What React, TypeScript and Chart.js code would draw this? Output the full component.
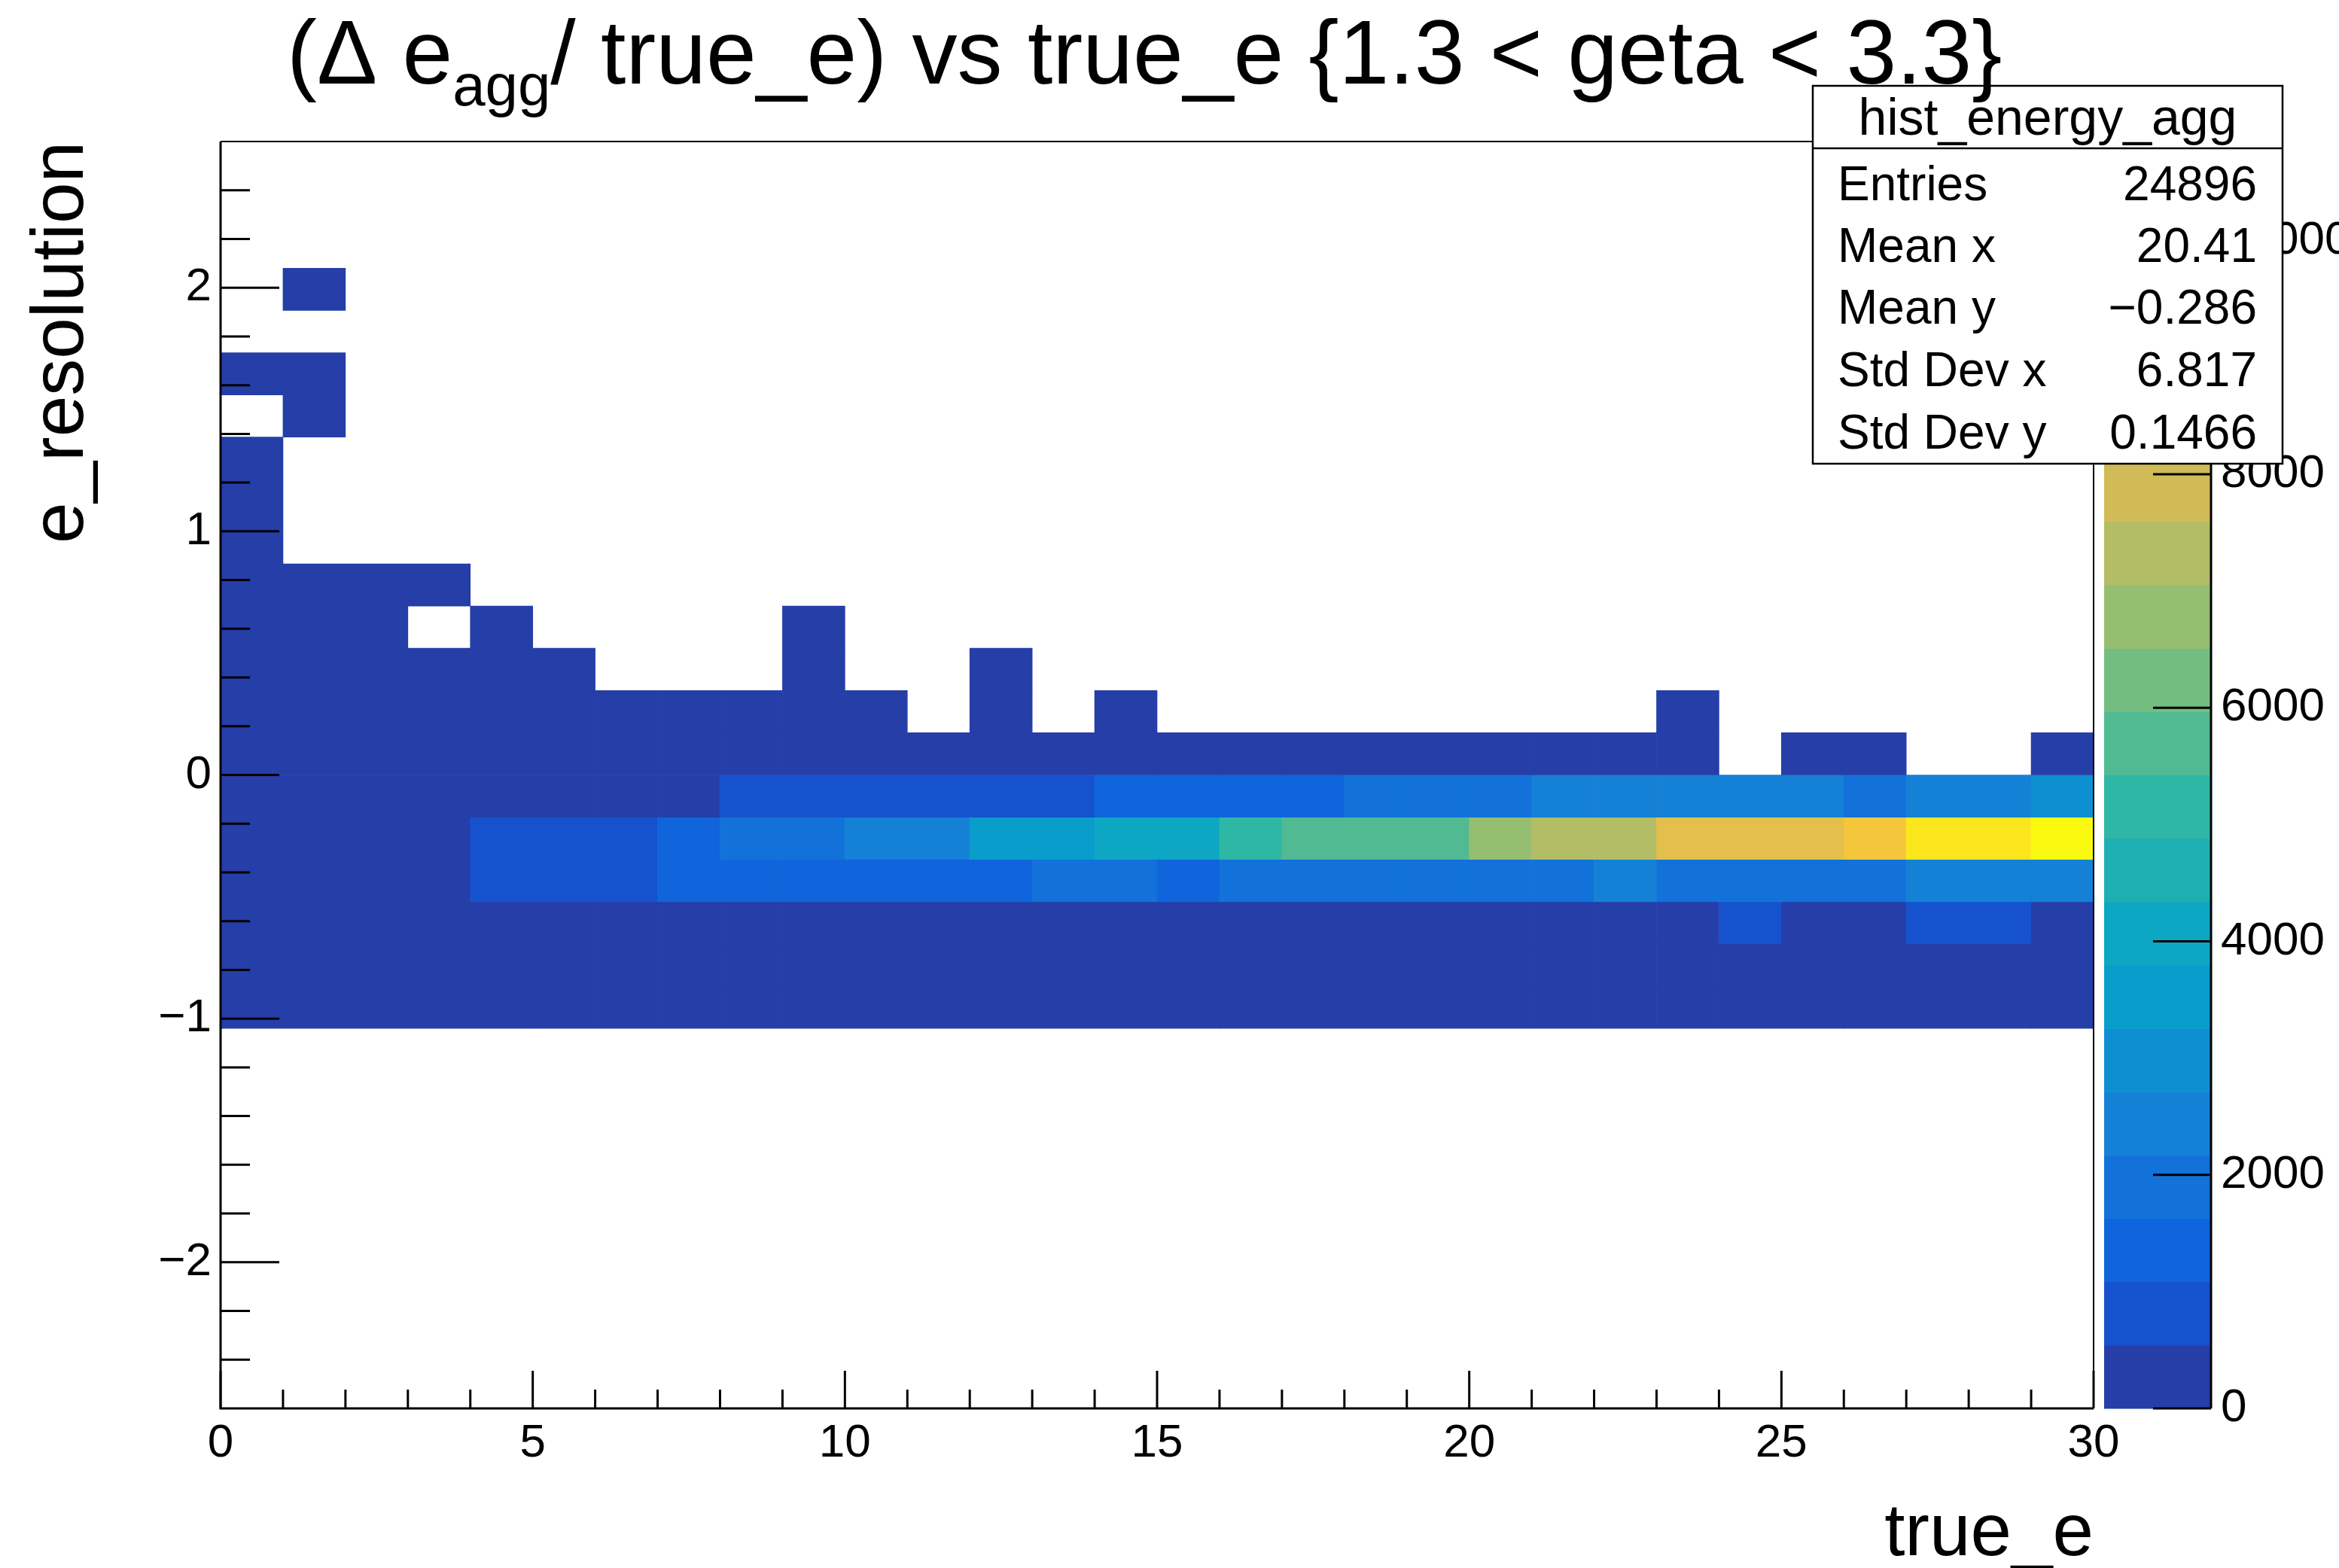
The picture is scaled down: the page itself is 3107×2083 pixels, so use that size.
import React, { useEffect, useRef } from 'react';
import { Chart, registerables } from 'chart.js';

Chart.register(...registerables);

const FONT = "'Liberation Sans', Arial, Helvetica, sans-serif";

// ---- axis definitions ----
const X_MIN = 0;
const X_MAX = 30;
const X_BINS = 30;
const Y_MIN = -2.6;
const Y_MAX = 2.6;
const Y_BINS = 30;

const xMajorTicks = [0, 5, 10, 15, 20, 25, 30];
const yMajorTicks = [-2, -1, 0, 1, 2];
const zMajorTicks = [0, 2000, 4000, 6000, 8000, 10000];

const titleMain1 = '(\u0394 e';
const titleSub = 'agg';
const titleMain2 = '/ true_e) vs true_e {1.3 < geta < 3.3}';
const xTitle = 'true_e';
const yTitle = 'e_resolution';

const statsName = 'hist_energy_agg';
const statsLabels = ['Entries', 'Mean x', 'Mean y', 'Std Dev x', 'Std Dev y'];
const statsValues = ['24896', '20.41', '\u22120.286', '6.817', '0.1466'];

// ---- bin contents, one array per y bin (bin index counted from Y_MIN), 30 x bins each ----
const row09 = [210, 165, 182, 148, 196, 171, 204, 226, 183, 241, 232, 258, 249, 272, 244, 291, 283, 305, 318, 309, 334, 352, 338, 361, 384, 366, 402, 391, 423, 408];
const row10 = [262, 231, 254, 243, 286, 302, 291, 313, 336, 352, 341, 366, 392, 371, 404, 413, 431, 422, 445, 452, 466, 441, 473, 486, 494, 472, 503, 511, 524, 506];
const row11 = [312, 284, 301, 323, 362, 381, 374, 402, 413, 431, 426, 444, 452, 463, 471, 484, 492, 503, 486, 511, 522, 508, 517, 526, 644, 531, 522, 623, 655, 536];
const row12 = [352, 331, 384, 421, 832, 874, 921, 1152, 1233, 1284, 1312, 1356, 1421, 1652, 1704, 1593, 1723, 1762, 1804, 1853, 1902, 1984, 2253, 2052, 2104, 2122, 2153, 2304, 2402, 2353];
const row13 = [384, 362, 413, 452, 903, 962, 1012, 1403, 1752, 1953, 2304, 2503, 3402, 3604, 3953, 4204, 5103, 5552, 5704, 5853, 6804, 7203, 7452, 8253, 8404, 8552, 8953, 9904, 10152, 10850];
const row14 = [302, 281, 322, 351, 392, 423, 462, 503, 622, 703, 782, 853, 932, 1012, 1124, 1203, 1302, 1453, 1702, 1853, 2004, 2253, 2354, 2452, 2553, 2604, 2103, 2404, 2652, 2903];
const row15 = [210, 185, 172, 148, 133, 109, 94, 82, 71, 58, 52, 43, 37, 29, 26, 21, 19, 17, 14, 13, 9, 8, 7, 5, 0, 4, 3, 0, 0, 2];
const row16 = [120, 96, 81, 64, 52, 41, 33, 25, 18, 14, 9, 0, 5, 0, 3, 0, 0, 0, 0, 0, 0, 0, 0, 1, 0, 0, 0, 0, 0, 0];
const row17 = [68, 51, 40, 29, 20, 12, 0, 0, 0, 3, 0, 0, 2, 0, 0, 0, 0, 0, 0, 0, 0, 0, 0, 0, 0, 0, 0, 0, 0, 0];
const row18 = [41, 30, 18, 0, 8, 0, 0, 0, 0, 1, 0, 0, 0, 0, 0, 0, 0, 0, 0, 0, 0, 0, 0, 0, 0, 0, 0, 0, 0, 0];
const row19 = [27, 16, 9, 4, 0, 0, 0, 0, 0, 0, 0, 0, 0, 0, 0, 0, 0, 0, 0, 0, 0, 0, 0, 0, 0, 0, 0, 0, 0, 0];
const row20 = [15, 0, 0, 0, 0, 0, 0, 0, 0, 0, 0, 0, 0, 0, 0, 0, 0, 0, 0, 0, 0, 0, 0, 0, 0, 0, 0, 0, 0, 0];
const row21 = [11, 0, 0, 0, 0, 0, 0, 0, 0, 0, 0, 0, 0, 0, 0, 0, 0, 0, 0, 0, 0, 0, 0, 0, 0, 0, 0, 0, 0, 0];
const row22 = [7, 0, 0, 0, 0, 0, 0, 0, 0, 0, 0, 0, 0, 0, 0, 0, 0, 0, 0, 0, 0, 0, 0, 0, 0, 0, 0, 0, 0, 0];
const row23 = [0, 2, 0, 0, 0, 0, 0, 0, 0, 0, 0, 0, 0, 0, 0, 0, 0, 0, 0, 0, 0, 0, 0, 0, 0, 0, 0, 0, 0, 0];
const row24 = [4, 3, 0, 0, 0, 0, 0, 0, 0, 0, 0, 0, 0, 0, 0, 0, 0, 0, 0, 0, 0, 0, 0, 0, 0, 0, 0, 0, 0, 0];
const row26 = [0, 1, 0, 0, 0, 0, 0, 0, 0, 0, 0, 0, 0, 0, 0, 0, 0, 0, 0, 0, 0, 0, 0, 0, 0, 0, 0, 0, 0, 0];

const rowsByBin: [number, number[]][] = [
  [9, row09], [10, row10], [11, row11], [12, row12], [13, row13], [14, row14],
  [15, row15], [16, row16], [17, row17], [18, row18], [19, row19], [20, row20],
  [21, row21], [22, row22], [23, row23], [24, row24], [26, row26],
];

const ZMAX = Math.max(...rowsByBin.map(([, r]) => Math.max(...r)));
const N_CONTOURS = 20;

// ---- ROOT kBird palette ----
function makeBird(): string[] {
  const stops = [0.0, 0.125, 0.25, 0.375, 0.5, 0.625, 0.75, 0.875, 1.0];
  const red = [0.2082, 0.0592, 0.0780, 0.0232, 0.1802, 0.5301, 0.8186, 0.9956, 0.9764];
  const green = [0.1664, 0.3599, 0.5041, 0.6419, 0.7178, 0.7492, 0.7328, 0.7862, 0.9832];
  const blue = [0.5293, 0.8684, 0.8385, 0.7914, 0.6425, 0.4662, 0.3499, 0.1968, 0.0539];
  const out: string[] = [];
  for (let s = 1; s < stops.length; s++) {
    const n = Math.floor(stops[s] * 255) - Math.floor(stops[s - 1] * 255);
    for (let c = 0; c < n; c++) {
      const t = c / n;
      const r = red[s - 1] + t * (red[s] - red[s - 1]);
      const g = green[s - 1] + t * (green[s] - green[s - 1]);
      const b = blue[s - 1] + t * (blue[s] - blue[s - 1]);
      out.push(`rgb(${Math.round(r * 255)},${Math.round(g * 255)},${Math.round(b * 255)})`);
    }
  }
  return out;
}
const BIRD = makeBird();

function bandColor(k: number): string {
  const idx = Math.floor((k + 0.99) * BIRD.length / N_CONTOURS);
  return BIRD[Math.min(idx, BIRD.length - 1)];
}
function colorFor(v: number): string {
  let k = Math.floor(0.01 + (v / ZMAX) * N_CONTOURS);
  if (k > N_CONTOURS - 1) k = N_CONTOURS - 1;
  if (k < 0) k = 0;
  return bandColor(k);
}

function fmt(v: number): string {
  return v < 0 ? '\u2212' + String(Math.abs(v)) : String(v);
}

function buildCells() {
  const dx = (X_MAX - X_MIN) / X_BINS;
  const dy = (Y_MAX - Y_MIN) / Y_BINS;
  const cells: { x: number; y: [number, number]; v: number }[] = [];
  for (const [bin, row] of rowsByBin) {
    row.forEach((v, ix) => {
      if (v > 0) {
        cells.push({ x: X_MIN + (ix + 0.5) * dx, y: [Y_MIN + bin * dy, Y_MIN + (bin + 1) * dy], v });
      }
    });
  }
  return cells;
}

const rootPlugin = {
  id: 'rootDecor',
  afterDatasetsDraw(chart: any) {
    const ctx: CanvasRenderingContext2D = chart.ctx;
    const xs = chart.scales.x;
    const ys = chart.scales.y;
    const zs = chart.scales.z;
    const { left, right, top, bottom } = chart.chartArea;
    ctx.save();

    // palette (colour bar)
    const cbLeft = right + 14;
    const cbRight = right + 156;
    for (let k = 0; k < N_CONTOURS; k++) {
      const y1 = zs.getPixelForValue((k * ZMAX) / N_CONTOURS);
      const y2 = zs.getPixelForValue(((k + 1) * ZMAX) / N_CONTOURS);
      ctx.fillStyle = bandColor(k);
      ctx.fillRect(cbLeft, y2, cbRight - cbLeft, y1 - y2 + 0.5);
    }
    ctx.strokeStyle = '#000';
    ctx.lineWidth = 3;
    ctx.beginPath();
    ctx.moveTo(cbRight, top);
    ctx.lineTo(cbRight, bottom);
    ctx.stroke();
    for (const v of zMajorTicks) {
      const y = zs.getPixelForValue(v);
      ctx.beginPath();
      ctx.moveTo(cbRight, y);
      ctx.lineTo(cbRight - 77, y);
      ctx.stroke();
    }

    // frame
    ctx.lineWidth = 2;
    ctx.beginPath();
    ctx.moveTo(left, top);
    ctx.lineTo(right, top);
    ctx.lineTo(right, bottom);
    ctx.stroke();
    ctx.lineWidth = 3;
    ctx.beginPath();
    ctx.moveTo(left, top);
    ctx.lineTo(left, bottom);
    ctx.lineTo(right, bottom);
    ctx.stroke();

    // x ticks (inward)
    for (let v = X_MIN; v <= X_MAX + 1e-9; v += 1) {
      const major = xMajorTicks.includes(v);
      const x = xs.getPixelForValue(v);
      ctx.beginPath();
      ctx.moveTo(x, bottom);
      ctx.lineTo(x, bottom - (major ? 50 : 25));
      ctx.stroke();
    }
    // y ticks (inward)
    for (let k = Math.ceil(Y_MIN / 0.2); k * 0.2 <= Y_MAX + 1e-9; k++) {
      const v = Math.round(k * 2) / 10;
      if (Math.abs(v) > 2.55) continue;
      const major = yMajorTicks.includes(v);
      const y = ys.getPixelForValue(v);
      ctx.beginPath();
      ctx.moveTo(left, y);
      ctx.lineTo(left + (major ? 78 : 39), y);
      ctx.stroke();
    }

    // statistics box
    const bx = 2408, by = 114, bw = 624, bh = 502;
    ctx.fillStyle = '#fff';
    ctx.fillRect(bx, by, bw, bh);
    ctx.strokeStyle = '#000';
    ctx.lineWidth = 2.5;
    ctx.strokeRect(bx, by, bw, bh);
    ctx.beginPath();
    ctx.moveTo(bx, 197);
    ctx.lineTo(bx + bw, 197);
    ctx.stroke();
    ctx.fillStyle = '#000';
    ctx.textBaseline = 'alphabetic';
    ctx.font = `68px ${FONT}`;
    ctx.textAlign = 'center';
    ctx.fillText(statsName, bx + bw / 2, 179);
    ctx.font = `64px ${FONT}`;
    const rowY = [266, 348, 430, 513, 596];
    statsLabels.forEach((lab, i) => {
      ctx.textAlign = 'left';
      ctx.fillText(lab, 2441, rowY[i]);
      ctx.textAlign = 'right';
      ctx.fillText(statsValues[i], 2998, rowY[i]);
    });

    // title with subscript
    ctx.textAlign = 'left';
    let tx = 381;
    ctx.font = `120px ${FONT}`;
    ctx.fillText(titleMain1, tx, 111);
    tx += ctx.measureText(titleMain1).width;
    ctx.font = `78px ${FONT}`;
    ctx.fillText(titleSub, tx, 140);
    tx += ctx.measureText(titleSub).width;
    ctx.font = `120px ${FONT}`;
    ctx.fillText(titleMain2, tx, 111);

    ctx.restore();
  },
};

function noPad(s: any) {
  s.paddingTop = 0;
  s.paddingBottom = 0;
  s.paddingLeft = 0;
  s.paddingRight = 0;
}

export default function App() {
  const ref = useRef<HTMLCanvasElement | null>(null);
  useEffect(() => {
    document.body.style.margin = '0';
    document.body.style.overflow = 'hidden';
    const canvas = ref.current;
    if (!canvas) return;
    const chart = new Chart(canvas, {
      type: 'bar',
      data: {
        datasets: [
          {
            data: buildCells() as any,
            backgroundColor: (c: any) => colorFor(c.raw ? c.raw.v : 0),
            borderWidth: 0,
            categoryPercentage: 1,
            barPercentage: 1,
            grouped: false,
          } as any,
        ],
      },
      options: {
        responsive: false,
        animation: false,
        devicePixelRatio: 1,
        layout: { padding: { top: 188, left: 0, right: 0, bottom: 0 } },
        plugins: {
          legend: { display: false },
          tooltip: { enabled: false },
          title: { display: false },
        },
        scales: {
          x: {
            type: 'linear',
            min: X_MIN,
            max: X_MAX,
            offset: false,
            position: 'bottom',
            grid: { display: false, drawTicks: false },
            border: { display: false },
            afterBuildTicks: (s: any) => {
              s.ticks = xMajorTicks.map((value) => ({ value }));
            },
            afterFit: (s: any) => {
              s.height = 212;
              noPad(s);
            },
            ticks: {
              autoSkip: false,
              maxRotation: 0,
              padding: 10,
              color: '#000',
              font: { family: FONT, size: 62 },
              callback: (v: any) => fmt(Number(v)),
            },
            title: {
              display: true,
              text: xTitle,
              align: 'end',
              color: '#000',
              font: { family: FONT, size: 98, lineHeight: 0.9 },
              padding: 0,
            },
          },
          y: {
            type: 'linear',
            min: Y_MIN,
            max: Y_MAX,
            position: 'left',
            grid: { display: false, drawTicks: false },
            border: { display: false },
            afterBuildTicks: (s: any) => {
              s.ticks = yMajorTicks.map((value) => ({ value }));
            },
            afterFit: (s: any) => {
              s.width = 293;
              noPad(s);
            },
            ticks: {
              autoSkip: false,
              padding: 12,
              color: '#000',
              font: { family: FONT, size: 62 },
              callback: (v: any) => fmt(Number(v)),
            },
            title: {
              display: true,
              text: yTitle,
              align: 'end',
              color: '#000',
              font: { family: FONT, size: 98, lineHeight: 0.9 },
              padding: { top: 39, bottom: 0 },
            },
          },
          z: {
            type: 'linear',
            axis: 'y',
            min: 0,
            max: ZMAX,
            position: 'right',
            grid: { display: false, drawTicks: false },
            border: { display: false },
            afterBuildTicks: (s: any) => {
              s.ticks = zMajorTicks.map((value) => ({ value }));
            },
            afterFit: (s: any) => {
              s.width = 326;
              noPad(s);
            },
            ticks: {
              autoSkip: false,
              padding: 169,
              color: '#000',
              font: { family: FONT, size: 62 },
              callback: (v: any) => fmt(Number(v)),
            },
          },
        } as any,
      },
      plugins: [rootPlugin],
    } as any);
    return () => chart.destroy();
  }, []);
  return <canvas ref={ref} width={3107} height={2083} style={{ display: 'block' }} />;
}
